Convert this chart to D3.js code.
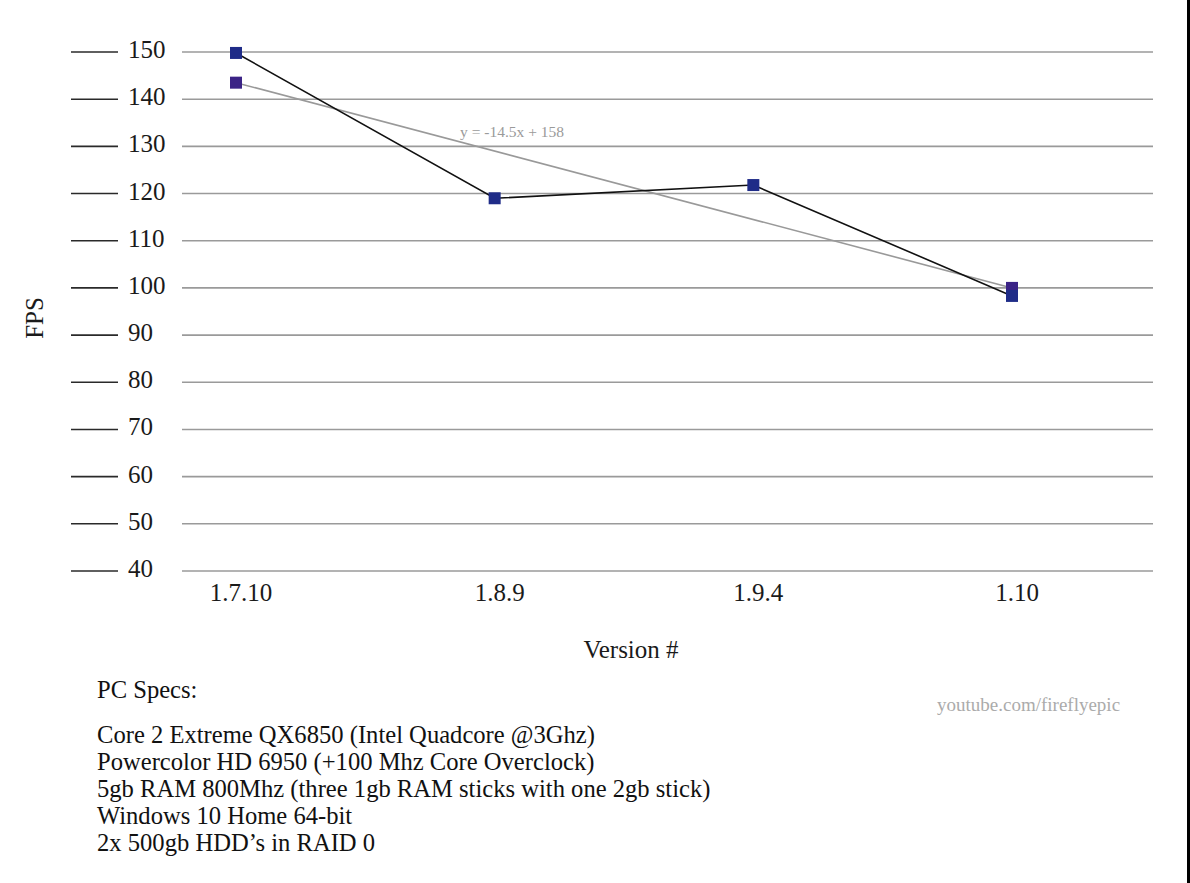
<!DOCTYPE html>
<html>
<head>
<meta charset="utf-8">
<script src="https://cdn.jsdelivr.net/npm/d3@7"></script>
<style>
  html, body { margin: 0; padding: 0; background: #fff; }
  svg { display: block; font-family: "Liberation Serif", "Times New Roman", serif; }
</style>
</head>
<body>
<svg id="chart" width="1190" height="883"></svg>
<script>
// versions on the x axis
var versions = ['1.7.10', '1.8.9', '1.9.4', '1.10']
// average FPS per version
var fps = [149.8, 119.0, 121.8, 98.3]
// y axis ticks
var yTicks = [40, 50, 60, 70, 80, 90, 100, 110, 120, 130, 140, 150]
// linear trendline as printed on the chart
var trendSlope = -14.5
var trendIntercept = 158
var trendLabel = 'y = -14.5x + 158'
var specs = [
  'Core 2 Extreme QX6850 (Intel Quadcore @3Ghz)',
  'Powercolor HD 6950 (+100 Mhz Core Overclock)',
  '5gb RAM 800Mhz (three 1gb RAM sticks with one 2gb stick)',
  'Windows 10 Home 64-bit',
  '2x 500gb HDD\u2019s in RAID 0'
]

var svg = d3.select('#chart')

var x = d3.scalePoint()
  .domain(versions)
  .range([236, 1012])

var y = d3.scaleLinear()
  .domain([40, 150])
  .range([571, 52])

var gridLeft = 182
var gridRight = 1153

// gridlines
svg.append('g')
  .selectAll('line')
  .data(yTicks)
  .join('line')
  .attr('x1', gridLeft)
  .attr('x2', gridRight)
  .attr('y1', function (d) { return y(d) })
  .attr('y2', function (d) { return y(d) })
  .attr('stroke', '#9a9a9a')
  .attr('stroke-width', 1.6)

// the little dashes left of the tick labels
svg.append('g')
  .selectAll('line')
  .data(yTicks)
  .join('line')
  .attr('x1', 71)
  .attr('x2', 118)
  .attr('y1', function (d) { return y(d) })
  .attr('y2', function (d) { return y(d) })
  .attr('stroke', '#2a2a2a')
  .attr('stroke-width', 1.6)

svg.append('g')
  .selectAll('text')
  .data(yTicks)
  .join('text')
  .attr('x', 128)
  .attr('y', function (d) { return y(d) + 6 })
  .attr('font-size', 25)
  .attr('fill', '#1a1a1a')
  .text(function (d) { return d })

// x labels
svg.append('g')
  .selectAll('text')
  .data(versions)
  .join('text')
  .attr('x', function (d) { return x(d) + 5 })
  .attr('y', 601)
  .attr('text-anchor', 'middle')
  .attr('font-size', 25)
  .attr('fill', '#1a1a1a')
  .text(function (d) { return d })

// axis titles
svg.append('text')
  .attr('x', 631)
  .attr('y', 658)
  .attr('text-anchor', 'middle')
  .attr('font-size', 25)
  .attr('fill', '#1a1a1a')
  .text('Version #')

svg.append('text')
  .attr('transform', 'translate(43,318) rotate(-90)')
  .attr('text-anchor', 'middle')
  .attr('font-size', 25)
  .attr('fill', '#1a1a1a')
  .text('FPS')

// trendline
var first = versions[0]
var last = versions[versions.length - 1]
var trendPts = [
  {v: first, val: trendSlope * 1 + trendIntercept},
  {v: last, val: trendSlope * versions.length + trendIntercept}
]

svg.append('line')
  .attr('x1', x(first))
  .attr('y1', y(trendPts[0].val))
  .attr('x2', x(last))
  .attr('y2', y(trendPts[1].val))
  .attr('stroke', '#999')
  .attr('stroke-width', 1.6)

svg.append('text')
  .attr('x', 460)
  .attr('y', 137)
  .attr('font-size', 15.5)
  .attr('fill', '#9a9a9a')
  .text(trendLabel)

// data line
var line = d3.line()
  .x(function (d, i) { return x(versions[i]) })
  .y(function (d) { return y(d) })

svg.append('path')
  .datum(fps)
  .attr('d', line)
  .attr('fill', 'none')
  .attr('stroke', '#111')
  .attr('stroke-width', 1.6)

var sz = 12

svg.append('g')
  .selectAll('rect')
  .data(trendPts)
  .join('rect')
  .attr('x', function (d) { return x(d.v) - sz / 2 })
  .attr('y', function (d) { return y(d.val) - sz / 2 })
  .attr('width', sz)
  .attr('height', sz)
  .attr('fill', '#3b2386')

svg.append('g')
  .selectAll('rect')
  .data(fps)
  .join('rect')
  .attr('x', function (d, i) { return x(versions[i]) - sz / 2 })
  .attr('y', function (d) { return y(d) - sz / 2 })
  .attr('width', sz)
  .attr('height', sz)
  .attr('fill', '#1f2c88')

// watermark
svg.append('text')
  .attr('x', 937)
  .attr('y', 711)
  .attr('font-size', 19)
  .attr('fill', '#ababab')
  .text('youtube.com/fireflyepic')

// PC specs block
svg.append('text')
  .attr('x', 97)
  .attr('y', 698)
  .attr('font-size', 24.6)
  .attr('fill', '#111')
  .text('PC Specs:')

svg.append('g')
  .selectAll('text')
  .data(specs)
  .join('text')
  .attr('x', 97)
  .attr('y', function (d, i) { return 743 + i * 27 })
  .attr('font-size', 24.6)
  .attr('fill', '#111')
  .text(function (d) { return d })

// black strip on the right edge
svg.append('rect')
  .attr('x', 1187)
  .attr('y', 0)
  .attr('width', 3)
  .attr('height', 883)
  .attr('fill', '#000')
</script>
</body>
</html>
